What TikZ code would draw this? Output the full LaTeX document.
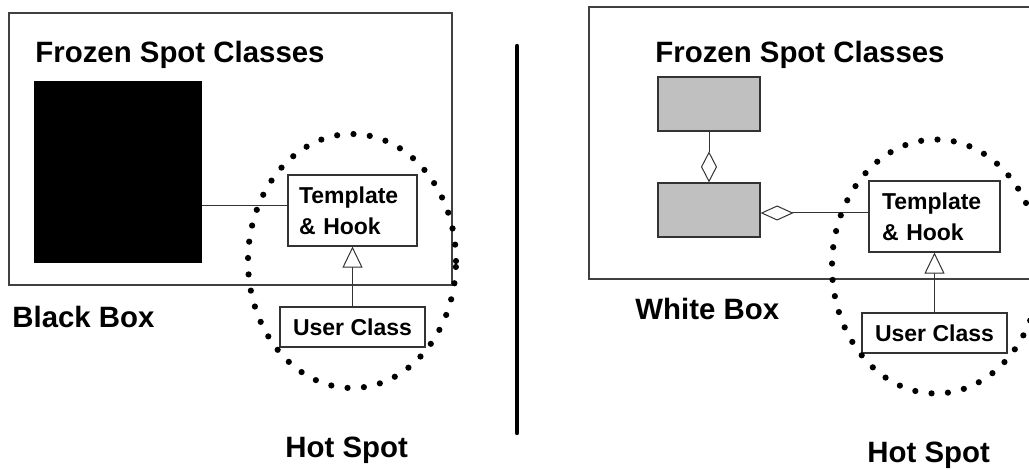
\documentclass[tikz,border=0pt]{standalone}
\usepackage{fontspec}
\setmainfont{Liberation Sans}
\usepackage{tkz-euclide}
\usetikzlibrary{arrows.meta,shapes.geometric,positioning}
\definecolor{silvergray}{RGB}{192,192,192}
\tikzset{
  frame/.style={draw=black!75,line width=0.6pt},
  cls/.style={draw=black!80,line width=0.6pt,fill=white,inner sep=0pt,
    font=\fontsize{11.5}{15.5}\selectfont\bfseries},
  frozen/.style={draw=black!80,line width=0.6pt,fill=silvergray,inner sep=0pt,
    minimum width=51pt,minimum height=27pt},
  hotspot/.style={ellipse,draw,line width=3.1pt,line cap=round,
    dash pattern=on 0pt off 8.2pt,minimum width=104pt,minimum height=127pt,inner sep=0pt},
  bigtext/.style={font=\fontsize{14.7}{17}\selectfont\bfseries,inner sep=0pt,anchor=base west},
  link/.style={draw=black!80,line width=0.5pt},
  isa/.style={link,-{Triangle[open,fill=white,width=10pt,length=10.5pt]}},
  hasa/.style={link,-{Diamond[open,fill=white,width=#1]}},
  hasa/.default={8pt,length=15.5pt}
}

\begin{document}
\begin{tikzpicture}[x=0.5pt,y=-0.5pt]
  \useasboundingbox (0,0) rectangle (1029,470);
  \clip (0,0) rectangle (1029,470);
  \tkzDefPoints{9/13/A,452/285/B,589/7/C,1040/279/D,517/46/E,517/433/F}
  % black box side
  \draw[frame] (A) rectangle (B);
  \node[bigtext] (titleL) at (35,63) {Frozen Spot Classes};
  \node[fill=black,inner sep=0pt,minimum width=84pt,minimum height=91pt] (bbox) at (118,172) {};
  \node[cls,align=left,inner xsep=5.5pt,text width=53.5pt,minimum height=35.5pt] (tmplL) at (352.5,210.5) {Template\\\& Hook};
  \node[cls,minimum width=72.5pt,minimum height=20pt] (userL) at (352.5,327) {User Class};
  \coordinate (hookL) at ([yshift=2.25pt]tmplL.west);
  \draw[link] (hookL) -- (hookL -| bbox.east);
  \draw[isa] (userL) -- (tmplL);
  \node[hotspot] (hotL) at (352,261) {};
  \node[bigtext] (blackL) at (12,328) {Black Box};
  \node[bigtext] (spotL) at (285,458) {Hot Spot};
  % divider
  \draw[line width=2.2pt,line cap=round] (E) -- (F);
  % white box side
  \draw[frame] (C) rectangle (D);
  \node[bigtext] (titleR) at (655,63) {Frozen Spot Classes};
  \node[frozen] (grayA) at (709,104) {};
  \node[frozen] (grayB) at (709,210) {};
  \node[cls,align=left,inner xsep=6.5pt,text width=52.5pt,minimum height=35.5pt] (tmplR) at (934.5,216.5) {Template\\\& Hook};
  \node[cls,minimum width=72.5pt,minimum height=20pt] (userR) at (934.5,333) {User Class};
  \draw[hasa] (grayA) -- (grayB);
  \coordinate (hookR) at ([yshift=-1.5pt]grayB.east);
  \draw[hasa={7.5pt,length=16.5pt}] (hookR -| tmplR.west) -- (hookR);
  \draw[isa] (userR) -- (tmplR);
  \node[hotspot] (hotR) at (936,266.5) {};
  \node[bigtext] (whiteR) at (635,320) {White Box};
  \node[bigtext] (spotR) at (867,463) {Hot Spot};
\end{tikzpicture}
\end{document}
